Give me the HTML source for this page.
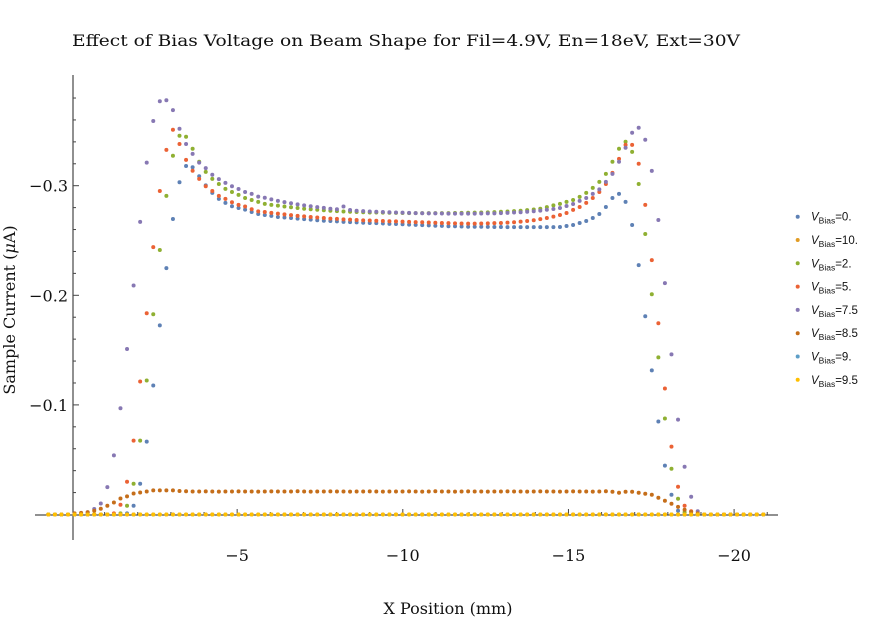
<!DOCTYPE html>
<html><head><meta charset="utf-8"><style>
body{margin:0;background:#fff;}
svg{display:block;}
.t{font-family:"DejaVu Serif","Liberation Serif",serif;}
.l{font-family:"Liberation Sans",sans-serif;}
</style></head><body>
<svg id="chart" width="869" height="620" viewBox="0 0 869 620" xmlns="http://www.w3.org/2000/svg">
<text class="t" x="406" y="46" font-size="16" text-anchor="middle" fill="#111" textLength="668" lengthAdjust="spacingAndGlyphs">Effect of Bias Voltage on Beam Shape for Fil=4.9V, En=18eV, Ext=30V</text>
<text class="t" x="448" y="614" font-size="16" text-anchor="middle" fill="#111">X Position (mm)</text>
<text class="t" transform="translate(15,310) rotate(-90)" font-size="16" text-anchor="middle" fill="#111">Sample Current (<tspan font-style="italic">μ</tspan>A)</text>
<g id="axes"></g>
<g id="marks"></g>
<g id="legend"></g>
</svg>
<script>
const xTicks=[-5,-10,-15,-20];
const xTickLabels=["\u22125","\u221210","\u221215","\u221220"];
const yTicks=[-0.1,-0.2,-0.3];
const yTickLabels=["\u22120.1","\u22120.2","\u22120.3"];
const seriesNames=["0.","10.","2.","5.","7.5","8.5","9.","9.5"];
const seriesColors=["#5e81b5","#e19c24","#8fb032","#eb6235","#8778b3","#c56e1a","#5d9ec7","#ffbf00"];
const xStart=0.7, xStep=-0.198, nPts=110;
const vBias0=[0,0,0,0,0,0,0,0,0,0,0,0,.001,.008,.028,.0665,.1177,.1726,.2248,.2696,.3031,.318,.3168,.3086,.3003,.2934,.288,.2843,.2812,.2797,.2782,.276,.2742,.2733,
.2725,.2715,.271,.2705,.27,.2695,.269,.2685,.268,.2678,.2675,.267,.2668,.2665,.2662,.266,.2658,.2655,.2652,.265,.2648,.2645,.2643,.264,.2638,.2635,.2633,.263,.263,.2628,.2626,.2625,.2625,.2624,.2623,.2623,.2622,.2622,.2622,.2622,.2622,.2622,.2622,.2622,
.2623,.2632,.2641,.266,.2678,.2705,.2742,.2806,.2888,.2925,.2852,.2641,.2275,.1809,.1315,.0848,.0446,.018,.0034,0,0,0,0,0,0,0,0,0,0,0,0,0];
const vBias2=[0,0,0,0,0,0,0,0,0,0,0,.001,.008,.028,.0674,.1223,.1827,.2413,.2907,.3273,.3456,.3447,.3337,.3218,.3126,.3062,.3016,.2971,.2943,.2916,.2888,.287,.2852,.2834,
.2825,.2818,.281,.2803,.2797,.279,.2785,.278,.2776,.2772,.2768,.2765,.2762,.276,.2758,.2756,.2755,.2754,.2753,.2752,.2751,.275,.275,.275,.275,.275,.275,.275,.2751,.2752,.2753,.2754,.2755,.2757,.2759,.2762,.2765,.2768,.2772,.2777,.2783,.279,.2805,.282,
.2834,.2852,.287,.2898,.2934,.298,.3035,.3108,.3218,.3337,.3401,.3309,.3016,.2559,.201,.1434,.0876,.0418,.0144,.002,0,0,0,0,0,0,0,0,0,0,0,0];
const vBias5=[0,0,0,0,0,0,0,0,0,0,.001,.0089,.0299,.0674,.1214,.1836,.244,.2952,.3327,.351,.338,.3236,.3136,.3062,.2995,.2952,.2907,.288,.2849,.2825,.281,.2785,.2766,.276,
.2752,.2745,.2738,.2731,.2725,.272,.2715,.271,.2705,.27,.2697,.2693,.269,.2687,.2684,.2682,.268,.2678,.2676,.2674,.2672,.267,.2668,.2666,.2664,.2662,.266,.2658,.2656,.2655,.2654,.2654,.2655,.2656,.2658,.266,.2663,.2667,.2672,.2678,.2685,.2695,.2705,.2718,
.2733,.2751,.2779,.2806,.2843,.2888,.2943,.3016,.3117,.3245,.3373,.3373,.32,.2825,.2321,.1745,.115,.0619,.0253,.008,.003,0,0,0,0,0,0,0,0,0,0,0];
const vBias75=[0,0,0,0,0,.001,.002,.005,.010,.025,.054,.097,.151,.209,.267,.321,.359,.377,.378,.369,.352,.338,.329,.321,.316,.310,.306,.3026,.2995,.297,.2943,.2925,.290,.289,
.2875,.2862,.285,.284,.283,.282,.2812,.2805,.2798,.279,.2785,.281,.2778,.2772,.2768,.2765,.2762,.276,.2758,.2756,.2754,.2752,.275,.2749,.2748,.2747,.2746,.2745,.2745,.2745,.2745,.2745,.2746,.2747,.2748,.275,.2752,.2755,.2758,.2762,.2767,.2773,.278,.2788,
.2797,.2815,.2833,.2861,.2888,.2925,.2967,.3035,.3108,.3218,.3346,.3483,.3529,.3419,.3135,.2687,.2111,.1461,.0866,.0436,.0162,.003,0,0,0,0,0,0,0,0,0,0];
const vBias85=[0,0,0,0,.001,.0015,.002,.0034,.0052,.008,.011,.0146,.0165,.0192,.0201,.021,.022,.022,.022,.022,.0215,
.0212,.021,.021,.0211,.021,.0209,.021,.021,.0211,.021,.021,.0209,.021,.0211,.021,.021,.021,.0212,.021,.0209,.021,.021,.0211,.021,.021,.0209,.021,.021,.0211,.021,.0209,.021,.021,.021,.0211,.021,.0209,.021,.0212,.021,.021,.0209,.021,.0211,.021,.021,.0209,.021,.021,.0211,.021,.021,.0209,.021,.0211,.021,.021,.0209,.021,.0211,.021,.021,.0209,.021,.0212,.0208,
.0198,.0207,.0207,.0198,.0189,.018,.0153,.0125,.0098,.007,.0043,.0024,.001,0,0,0,0,0,0,0,0,0];
const vBias9=[0,0,0,0,0,0,0,0,0,0,0,0,0,0,0,0,0,0,0,0,0,0,0,0,0,0,0,0,0,0,0,0,0,0,0,0,0,0,0,0,0,0,0,0,0,0,0,0,0,0,0,0,0,0,0,0,0,0,0,0,0,0,0,0,0,0,0,0,0,0,0,0,0,0,0,0,0,0,0,0,0,0,0,0,0,0,0,0,0,0,0,0,0,0,0,0,0,0,0,0,0,0,0,0,0,0,0,0,0,0];
const vBias95=[0,0,0,0,0,0,0,0,0,0,0,0,0,0,0,0,0,0,0,0,0,0,0,0,0,0,0,0,0,0,0,0,0,0,0,0,0,0,0,0,0,0,0,0,0,0,0,0,0,0,0,0,0,0,0,0,0,0,0,0,0,0,0,0,0,0,0,0,0,0,0,0,0,0,0,0,0,0,0,0,0,0,0,0,0,0,0,0,0,0,0,0,0,0,0,0,0,0,0,0,0,0,0,0,0,0,0,0,0,0];
const vBias10=[0,0,0,0,0,0,0,0,0,0,0,0,0,0,0,0,0,0,0,0,0,0,0,0,0,0,0,0,0,0,0,0,0,0,0,0,0,0,0,0,0,0,0,0,0,0,0,0,0,0,0,0,0,0,0,0,0,0,0,0,0,0,0,0,0,0,0,0,0,0,0,0,0,0,0,0,0,0,0,0,0,0,0,0,0,0,0,0,0,0,0,0,0,0,0,0,0,0,0,0,0,0,0,0,0,0,0,0,0,0];

const NS="http://www.w3.org/2000/svg";
function X(mm){return 71.5-33.13*mm;}
function Y(v){return 514.5+1096*v;}
function mk(tag,attrs,parent){const e=document.createElementNS(NS,tag);for(const k in attrs)e.setAttribute(k,attrs[k]);parent.appendChild(e);return e;}
const axes=document.getElementById('axes');
let e=mk('line',{x1:35,y1:515,x2:778,y2:515,stroke:'#222','stroke-width':1},axes);


e=mk('line',{x1:73,y1:75,x2:73,y2:540,stroke:'#222','stroke-width':1},axes);


for(let m=-1;m>=-21;m--){
  const major=(m%5===0);
  e=mk('line',{x1:X(m),y1:515,x2:X(m),y2:major?509:512,stroke:'#444','stroke-width':1},axes);
  
  
}
xTicks.forEach((t,i)=>{
  e=mk('text',{x:X(t),y:561,'font-size':16,'text-anchor':'middle',fill:'#111',class:'t'},axes);
  e.textContent=xTickLabels[i];
  
  
});
for(let k=1;k<=19;k++){
  const v=-0.02*k; const major=(k%5===0);
  e=mk('line',{x1:73,y1:Y(v),x2:major?79:76,y2:Y(v),stroke:'#444','stroke-width':1},axes);
  
  
}
yTicks.forEach((t,i)=>{
  e=mk('text',{x:68,y:Y(t)+6,'font-size':16,'text-anchor':'end',fill:'#111',class:'t'},axes);
  e.textContent=yTickLabels[i];
  
  
});
const allSeries=[vBias0,vBias10,vBias2,vBias5,vBias75,vBias85,vBias9,vBias95];
const drawOrder=[0,2,3,4,5,6,1,7];
const marks=document.getElementById('marks');
drawOrder.forEach(si=>{
  const g=mk('g',{},marks);
  
  
  allSeries[si].forEach((v,i)=>{
    const c=mk('circle',{cx:X(xStart+xStep*i).toFixed(2),cy:Y(-v).toFixed(2),r:2,fill:seriesColors[si]},g);
    
    
  });
});
const leg=document.getElementById('legend');
seriesNames.forEach((n,i)=>{
  const y=216.7+23.3*i;
  const g=mk('g',{},leg);
  
  
  mk('circle',{cx:797.7,cy:y,r:2,fill:seriesColors[i]},g);
  const t=mk('text',{x:811,y:y+4,'font-size':11.5,fill:'#111',class:'l'},g);
  t.innerHTML='<tspan font-style="italic">V</tspan><tspan font-size="8.5" dy="3">Bias</tspan><tspan dy="-3">='+n+'</tspan>';
});
</script>
</body></html>
